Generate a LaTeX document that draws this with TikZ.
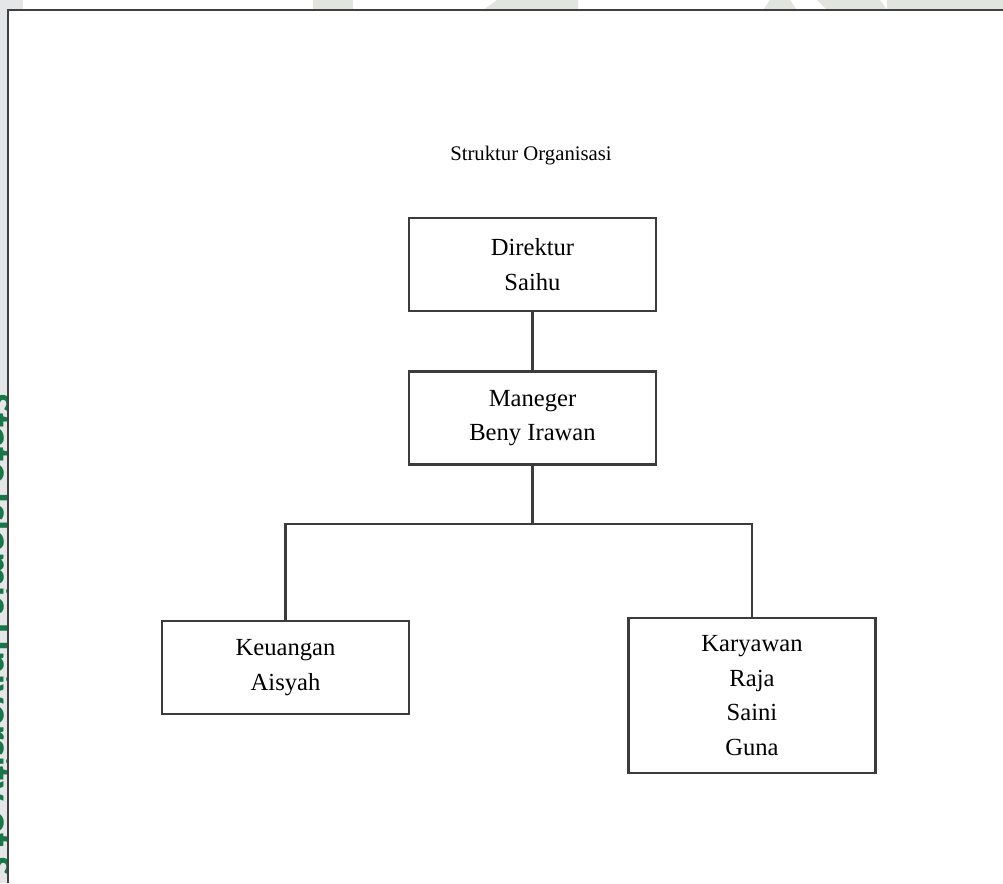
\documentclass[tikz,border=0pt]{standalone}
\usepackage{fontspec}
\setmainfont{Liberation Serif}
\newfontfamily\wmfont{Carlito}
\definecolor{strip}{RGB}{229,230,231}
\definecolor{wmark}{RGB}{226,228,223}
\definecolor{wmgreen}{RGB}{24,118,72}
\definecolor{boxline}{RGB}{60,60,60}
\tikzset{
	orgbox/.style={draw=boxline, line width=1.5pt, minimum width=4.94cm, minimum height=1.86cm, align=center, inner sep=0pt, font=\fontsize{14}{19.8}\selectfont},
	link/.style={draw=boxline, line width=1.5pt},
}

\begin{document}
\begin{tikzpicture}[x=0.02cm,y=-0.02cm]
		\useasboundingbox (0,0) rectangle (1003,883) ;
		\clip (0,0) rectangle (1003,883) ;
		% page margins and watermark
		\fill[white] (0,0) rectangle (1003,883) ;
		\fill[strip] (0,0) rectangle (8,883) ;
		\fill[strip] (0,0) rectangle (23,10) ;
		\fill[wmark] (313,0) rectangle (353,10) ;
		\fill[wmark] (497,0) -- (578,0) -- (578,10) -- (483,10) -- cycle ;
		\fill[wmark] (770,0) -- (790,0) -- (797,10) -- (763,10) -- cycle ;
		\fill[wmark] (817,0) -- (880,0) -- (887,10) -- (827,10) -- cycle ;
		\fill[wmark] (887,0) rectangle (1003,10) ;
		\node[wmgreen, font=\wmfont\bfseries\fontsize{24}{24}\selectfont, rotate=-90, anchor=base west, inner sep=0pt] (wm) at (-16,393) {State Islamic University of S} ;
		\fill[white] (8,10) rectangle (1003,883) ;
		\draw[black!75, line width=1.2pt] (8,883) -- (8,10) -- (1003,10) ;
		% chart
		\node[font=\fontsize{11.8}{14}\selectfont] (title) at (531,156) {Struktur Organisasi} ;
		\node[orgbox] (dir) at (532.5,264.5) {Direktur\\Saihu} ;
		\node[orgbox] (man) at (532.5,418) {Maneger\\Beny Irawan} ;
		\node[orgbox] (keu) at (285.5,667.5) {Keuangan\\Aisyah} ;
		\node[orgbox, minimum height=3.1cm] (kar) at (752,695.5) {Karyawan\\Raja\\Saini\\Guna} ;
		\coordinate (fork) at (532.5,524) ;
		\draw[link] (dir) -- (man) ;
		\draw[link] (man) -- (fork) ;
		\draw[link] (fork) -| (keu) ;
		\draw[link] (fork) -| (kar) ;
	\end{tikzpicture}
\end{document}
